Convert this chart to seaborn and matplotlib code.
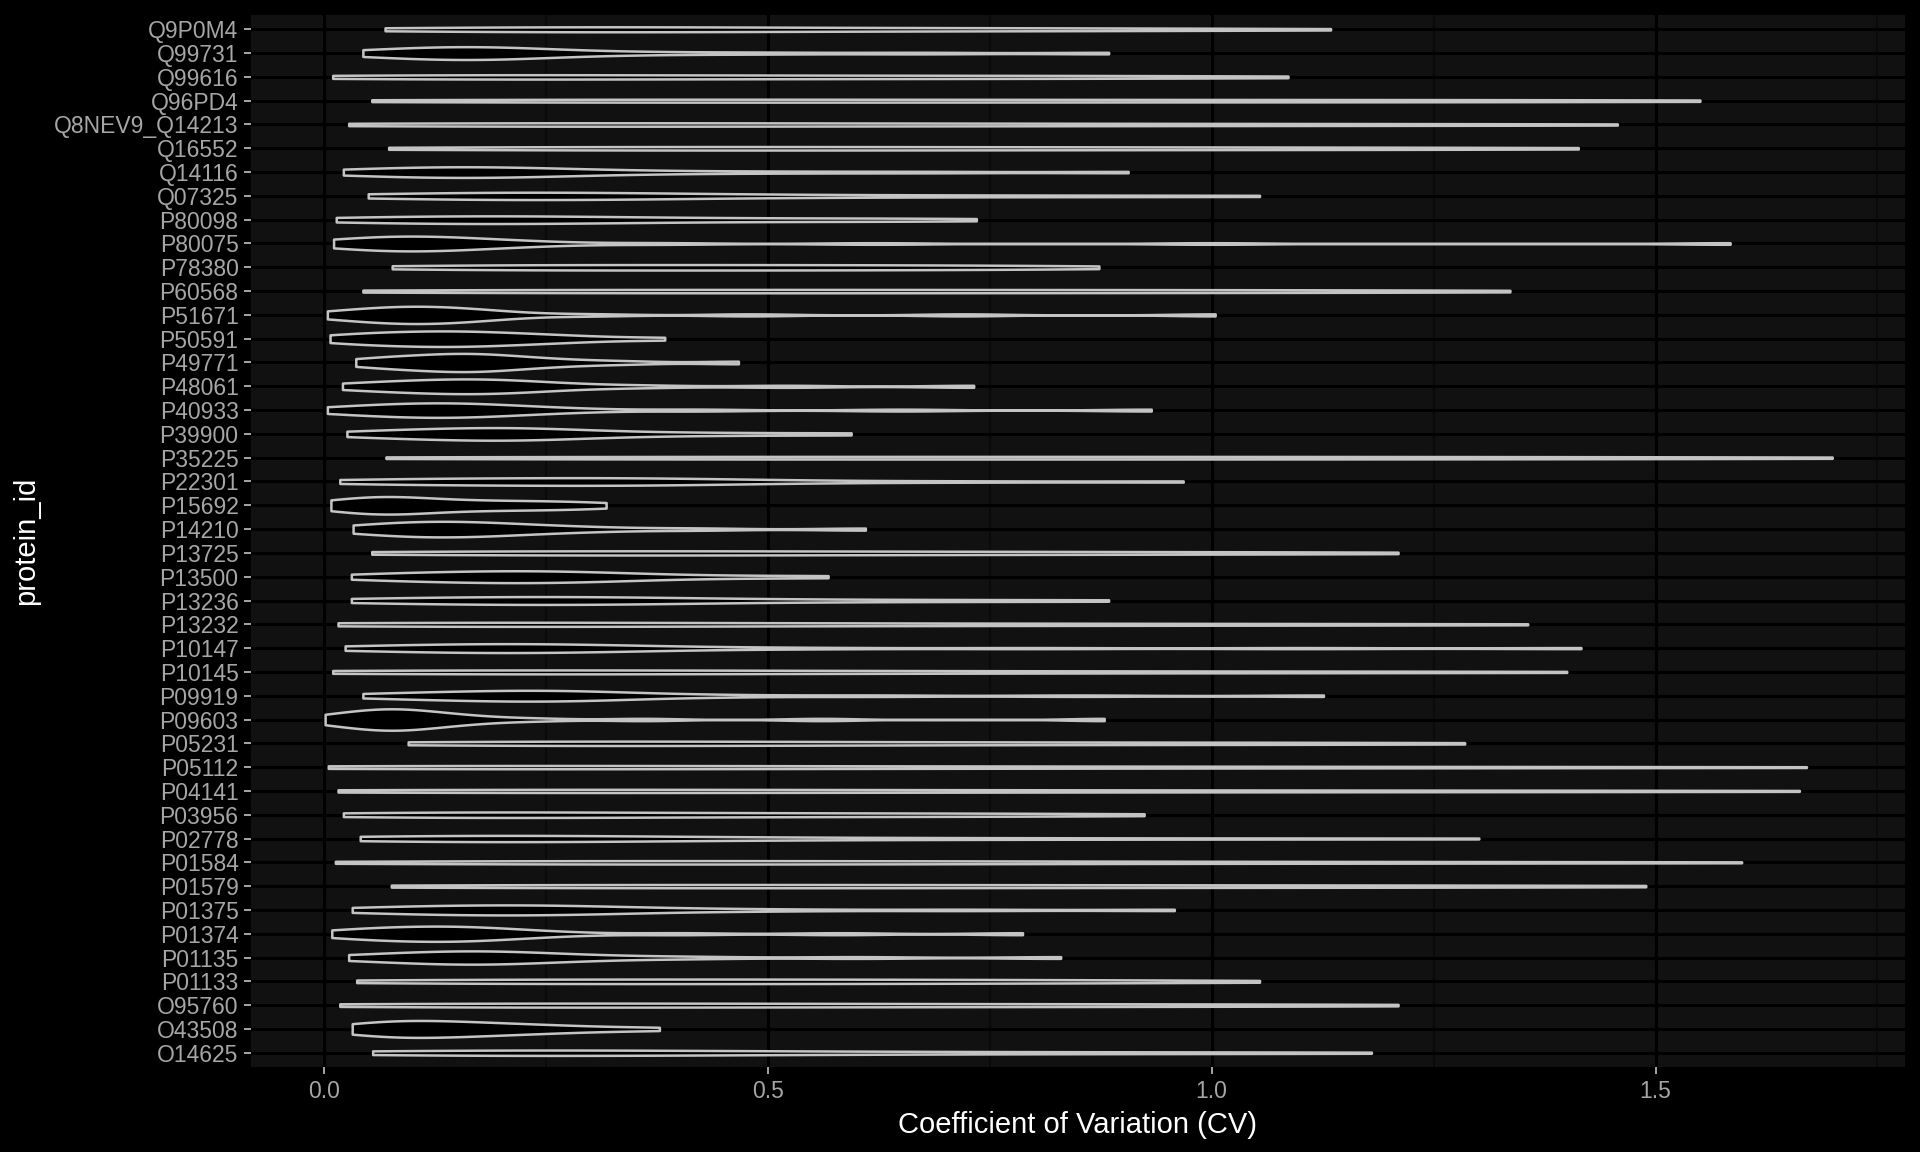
import numpy as np
import pandas as pd
import seaborn as sns
import matplotlib.pyplot as plt
from matplotlib.ticker import MultipleLocator

# protein ids, top to bottom as they appear on the y axis
proteins = ["Q9P0M4", "Q99731", "Q99616", "Q96PD4", "Q8NEV9_Q14213", "Q16552",
            "Q14116", "Q07325", "P80098", "P80075", "P78380", "P60568", "P51671",
            "P50591", "P49771", "P48061", "P40933", "P39900", "P35225", "P22301",
            "P15692", "P14210", "P13725", "P13500", "P13236", "P13232", "P10147",
            "P10145", "P09919", "P09603", "P05231", "P05112", "P04141", "P03956",
            "P02778", "P01584", "P01579", "P01375", "P01374", "P01135", "P01133",
            "O95760", "O43508", "O14625"]

# CV values per protein
cv_q9p0m4 = [0.069, 0.12, 0.18, 0.23, 0.28, 0.32, 0.36, 0.41, 0.47, 0.54, 0.62, 0.7, 0.79, 0.88, 0.98, 1.134]
cv_q99731 = [0.044, 0.07, 0.1, 0.12, 0.14, 0.155, 0.17, 0.185, 0.2, 0.22, 0.25, 0.3, 0.38, 0.5, 0.67, 0.884]
cv_q99616 = [0.01, 0.05, 0.1, 0.15, 0.2, 0.26, 0.32, 0.39, 0.46, 0.54, 0.62, 0.7, 0.79, 0.88, 0.98, 1.086]
cv_q96pd4 = [0.054, 0.13, 0.21, 0.3, 0.38, 0.47, 0.56, 0.66, 0.75, 0.86, 0.97, 1.08, 1.2, 1.32, 1.44, 1.55]
cv_q8nev9_q14213 = [0.028, 0.08, 0.14, 0.2, 0.27, 0.34, 0.42, 0.5, 0.59, 0.68, 0.78, 0.9, 1.02, 1.16, 1.3, 1.457]
cv_q16552 = [0.073, 0.16, 0.24, 0.31, 0.38, 0.45, 0.52, 0.6, 0.68, 0.77, 0.86, 0.96, 1.06, 1.17, 1.29, 1.413]
cv_q14116 = [0.022, 0.05, 0.08, 0.11, 0.13, 0.15, 0.17, 0.19, 0.21, 0.24, 0.27, 0.32, 0.4, 0.52, 0.68, 0.906]
cv_q07325 = [0.05, 0.09, 0.13, 0.17, 0.2, 0.23, 0.26, 0.29, 0.32, 0.36, 0.41, 0.48, 0.58, 0.7, 0.86, 1.054]
cv_p80098 = [0.014, 0.05, 0.09, 0.12, 0.15, 0.18, 0.21, 0.24, 0.27, 0.31, 0.36, 0.42, 0.5, 0.58, 0.66, 0.735]
cv_p80075 = [0.011, 0.03, 0.045, 0.06, 0.075, 0.09, 0.1, 0.11, 0.125, 0.14, 0.16, 0.18, 0.21, 0.25, 0.38, 0.62, 1.0, 1.584]
cv_p78380 = [0.077, 0.13, 0.18, 0.23, 0.28, 0.33, 0.38, 0.43, 0.48, 0.53, 0.58, 0.63, 0.69, 0.75, 0.81, 0.873]
cv_p60568 = [0.044, 0.12, 0.2, 0.28, 0.36, 0.44, 0.52, 0.6, 0.68, 0.76, 0.85, 0.94, 1.03, 1.13, 1.23, 1.336]
cv_p51671 = [0.004, 0.025, 0.045, 0.06, 0.075, 0.09, 0.1, 0.11, 0.12, 0.135, 0.15, 0.165, 0.185, 0.21, 0.3, 0.48, 0.72, 1.004]
cv_p50591 = [0.007, 0.03, 0.05, 0.07, 0.09, 0.11, 0.125, 0.14, 0.155, 0.17, 0.19, 0.21, 0.235, 0.26, 0.3, 0.384]
cv_p49771 = [0.036, 0.06, 0.08, 0.1, 0.12, 0.135, 0.15, 0.16, 0.17, 0.185, 0.2, 0.22, 0.245, 0.28, 0.34, 0.467]
cv_p48061 = [0.021, 0.05, 0.075, 0.1, 0.12, 0.14, 0.155, 0.17, 0.185, 0.2, 0.22, 0.245, 0.28, 0.36, 0.52, 0.732]
cv_p40933 = [0.004, 0.03, 0.055, 0.075, 0.095, 0.11, 0.125, 0.14, 0.155, 0.17, 0.19, 0.21, 0.24, 0.29, 0.42, 0.65, 0.932]
cv_p39900 = [0.026, 0.06, 0.09, 0.12, 0.145, 0.165, 0.185, 0.2, 0.22, 0.24, 0.26, 0.29, 0.33, 0.39, 0.48, 0.594]
cv_p35225 = [0.07, 0.16, 0.26, 0.36, 0.46, 0.57, 0.67, 0.78, 0.88, 0.98, 1.09, 1.2, 1.31, 1.43, 1.56, 1.699]
cv_p22301 = [0.018, 0.06, 0.1, 0.14, 0.18, 0.22, 0.26, 0.29, 0.32, 0.35, 0.38, 0.42, 0.47, 0.55, 0.72, 0.968]
cv_p15692 = [0.008, 0.025, 0.04, 0.055, 0.065, 0.07, 0.075, 0.09, 0.11, 0.13, 0.155, 0.18, 0.205, 0.23, 0.26, 0.29, 0.318]
cv_p14210 = [0.033, 0.055, 0.075, 0.095, 0.11, 0.125, 0.14, 0.155, 0.17, 0.19, 0.21, 0.235, 0.27, 0.32, 0.42, 0.61]
cv_p13725 = [0.054, 0.11, 0.17, 0.23, 0.29, 0.35, 0.41, 0.47, 0.54, 0.61, 0.69, 0.78, 0.87, 0.98, 1.09, 1.21]
cv_p13500 = [0.031, 0.07, 0.1, 0.13, 0.155, 0.18, 0.2, 0.22, 0.24, 0.26, 0.285, 0.31, 0.34, 0.38, 0.46, 0.568]
cv_p13236 = [0.031, 0.07, 0.11, 0.15, 0.19, 0.22, 0.25, 0.28, 0.31, 0.34, 0.38, 0.43, 0.5, 0.6, 0.73, 0.884]
cv_p13232 = [0.016, 0.05, 0.09, 0.13, 0.18, 0.23, 0.29, 0.36, 0.44, 0.53, 0.63, 0.74, 0.87, 1.0, 1.17, 1.356]
cv_p10147 = [0.024, 0.06, 0.1, 0.13, 0.16, 0.19, 0.21, 0.23, 0.25, 0.28, 0.31, 0.35, 0.41, 0.55, 0.8, 1.1, 1.416]
cv_p10145 = [0.01, 0.05, 0.1, 0.15, 0.2, 0.26, 0.32, 0.39, 0.47, 0.56, 0.66, 0.77, 0.9, 1.05, 1.22, 1.40]
cv_p09919 = [0.044, 0.08, 0.12, 0.15, 0.18, 0.2, 0.22, 0.24, 0.26, 0.28, 0.3, 0.33, 0.37, 0.46, 0.62, 0.85, 1.126]
cv_p09603 = [0.0015, 0.015, 0.03, 0.045, 0.055, 0.065, 0.075, 0.08, 0.085, 0.095, 0.105, 0.12, 0.135, 0.155, 0.18, 0.24, 0.36, 0.56, 0.879]
cv_p05231 = [0.095, 0.14, 0.19, 0.24, 0.29, 0.34, 0.4, 0.46, 0.53, 0.61, 0.7, 0.8, 0.91, 1.03, 1.15, 1.285]
cv_p05112 = [0.005, 0.04, 0.08, 0.13, 0.19, 0.26, 0.34, 0.43, 0.53, 0.64, 0.76, 0.89, 1.03, 1.19, 1.42, 1.67]
cv_p04141 = [0.016, 0.07, 0.13, 0.19, 0.26, 0.33, 0.41, 0.5, 0.6, 0.71, 0.83, 0.96, 1.11, 1.28, 1.46, 1.662]
cv_p03956 = [0.022, 0.06, 0.1, 0.14, 0.18, 0.22, 0.27, 0.32, 0.38, 0.44, 0.51, 0.58, 0.66, 0.74, 0.83, 0.924]
cv_p02778 = [0.041, 0.08, 0.11, 0.14, 0.17, 0.2, 0.23, 0.27, 0.31, 0.36, 0.43, 0.53, 0.66, 0.82, 1.04, 1.301]
cv_p01584 = [0.013, 0.1, 0.18, 0.25, 0.32, 0.39, 0.46, 0.53, 0.61, 0.7, 0.8, 0.92, 1.06, 1.22, 1.4, 1.597]
cv_p01579 = [0.076, 0.15, 0.23, 0.3, 0.38, 0.46, 0.54, 0.62, 0.71, 0.8, 0.9, 1.01, 1.12, 1.24, 1.36, 1.489]
cv_p01375 = [0.032, 0.07, 0.1, 0.13, 0.16, 0.19, 0.21, 0.23, 0.25, 0.28, 0.31, 0.35, 0.41, 0.52, 0.72, 0.958]
cv_p01374 = [0.009, 0.03, 0.05, 0.07, 0.09, 0.105, 0.12, 0.135, 0.15, 0.165, 0.18, 0.2, 0.225, 0.27, 0.4, 0.58, 0.787]
cv_p01135 = [0.028, 0.06, 0.09, 0.115, 0.135, 0.155, 0.17, 0.185, 0.2, 0.22, 0.245, 0.28, 0.33, 0.42, 0.6, 0.83]
cv_p01133 = [0.037, 0.1, 0.16, 0.22, 0.28, 0.34, 0.4, 0.46, 0.52, 0.58, 0.64, 0.7, 0.78, 0.86, 0.95, 1.054]
cv_o95760 = [0.018, 0.07, 0.13, 0.19, 0.25, 0.31, 0.38, 0.45, 0.52, 0.6, 0.68, 0.77, 0.87, 0.98, 1.09, 1.21]
cv_o43508 = [0.032, 0.048, 0.062, 0.076, 0.09, 0.104, 0.118, 0.133, 0.15, 0.168, 0.188, 0.21, 0.235, 0.265, 0.31, 0.378]
cv_o14625 = [0.055, 0.09, 0.13, 0.17, 0.21, 0.25, 0.29, 0.34, 0.39, 0.45, 0.52, 0.61, 0.72, 0.85, 1.0, 1.18]

cv_lists = [cv_q9p0m4, cv_q99731, cv_q99616, cv_q96pd4, cv_q8nev9_q14213, cv_q16552,
            cv_q14116, cv_q07325, cv_p80098, cv_p80075, cv_p78380, cv_p60568, cv_p51671,
            cv_p50591, cv_p49771, cv_p48061, cv_p40933, cv_p39900, cv_p35225, cv_p22301,
            cv_p15692, cv_p14210, cv_p13725, cv_p13500, cv_p13236, cv_p13232, cv_p10147,
            cv_p10145, cv_p09919, cv_p09603, cv_p05231, cv_p05112, cv_p04141, cv_p03956,
            cv_p02778, cv_p01584, cv_p01579, cv_p01375, cv_p01374, cv_p01135, cv_p01133,
            cv_o95760, cv_o43508, cv_o14625]

df = pd.DataFrame(
    [(p, v) for p, vals in zip(proteins, cv_lists) for v in vals],
    columns=["protein_id", "cv"])


def bw_nrd0(kde):
    # R's bw.nrd0 (what ggplot uses), returned as a factor of the sd
    x = kde.dataset[0]
    sd = np.std(x, ddof=1)
    q75, q25 = np.percentile(x, [75, 25])
    lo = min(sd, (q75 - q25) / 1.34)
    return 0.9 * lo * len(x) ** -0.2 / sd


sns.set_theme(style="dark")
plt.rcParams["font.family"] = ["Liberation Sans", "DejaVu Sans"]

fig = plt.figure(figsize=(19.2, 11.52), dpi=100, facecolor="black")
ax = fig.add_axes([251 / 1920, 1 - 1067 / 1152, 1654 / 1920, 1052 / 1152])
ax.set_facecolor("#111111")

sns.violinplot(data=df, x="cv", y="protein_id", order=proteins, orient="h",
               cut=0, density_norm="area", width=0.9, inner=None,
               bw_method=bw_nrd0, gridsize=300, color="black", saturation=1,
               linecolor="#c4c4c4", linewidth=1.8, ax=ax)

ax.set_xlim(-0.082, 1.781)
ax.set_ylim(len(proteins) - 0.4, -0.6)
ax.xaxis.set_major_locator(MultipleLocator(0.5))
ax.xaxis.set_minor_locator(MultipleLocator(0.25))
ax.set_axisbelow(True)
ax.grid(which="major", axis="both", color="black", linewidth=2.2)
ax.grid(which="minor", axis="x", color="#0a0a0a", linewidth=1.3)

for s in ax.spines.values():
    s.set_visible(False)

ax.tick_params(which="major", length=5, width=1.4, color="#a6a6a6",
               labelcolor="#a6a6a6", labelsize=16.5, pad=4,
               left=True, bottom=True)
ax.tick_params(which="minor", length=0)

ax.set_xlabel("Coefficient of Variation (CV)", color="white", fontsize=21, labelpad=6)
ax.set_ylabel("protein_id", color="white", fontsize=21, labelpad=10)

fig.savefig("out.png", dpi=100, facecolor="black")
